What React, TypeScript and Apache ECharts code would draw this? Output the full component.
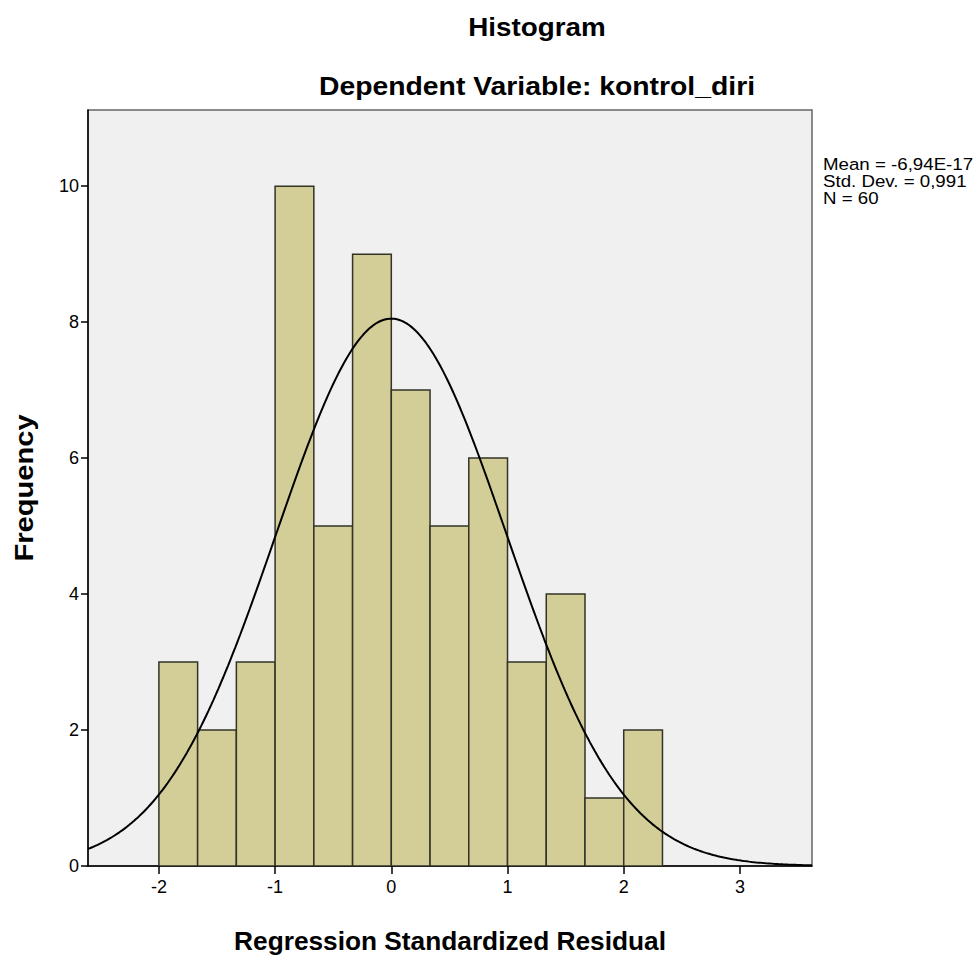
import React, { useEffect, useRef } from "react";
import * as echarts from "echarts";

// Histogram data
const binStart = -2;
const binWidth = 1 / 3;
const counts = [3, 2, 3, 10, 5, 9, 7, 5, 6, 3, 4, 1, 2];

// Stats shown in the chart (used for the fitted normal curve)
const statMean = -6.94e-17;
const statSd = 0.991;
const statN = 60;
const statLines = ["Mean = -6,94E-17", "Std. Dev. = 0,991", "N = 60"];

const xTicks = [-2, -1, 0, 1, 2, 3];
const yTicks = [0, 2, 4, 6, 8, 10];
const xMin = -2.61;
const xMax = 3.62;
const yMax = 11.12;

const titleText = "Histogram";
const subtitleText = "Dependent Variable: kontrol_diri";
const xName = "Regression Standardized Residual";
const yName = "Frequency";

export default function App() {
  const ref = useRef<HTMLDivElement>(null);
  useEffect(() => {
    if (!ref.current) return;
    const chart = echarts.init(ref.current, undefined, { renderer: "svg" });

    const bins = counts.map((c, i) => [binStart + i * binWidth, binStart + (i + 1) * binWidth, c]);

    const curve: number[][] = [];
    const steps = 300;
    for (let i = 0; i <= steps; i++) {
      const x = xMin + ((xMax - xMin) * i) / steps;
      const z = (x - statMean) / statSd;
      const y = (statN * binWidth * Math.exp(-0.5 * z * z)) / (statSd * Math.sqrt(2 * Math.PI));
      curve.push([x, y]);
    }

    const font = "'Liberation Sans', Arial, sans-serif";

    chart.setOption({
      animation: false,
      backgroundColor: "#ffffff",
      grid: {
        left: 88,
        top: 110,
        width: 724,
        height: 756,
        show: true,
        backgroundColor: "#f0f0f0",
        borderColor: "#666",
        borderWidth: 1.5,
      },
      xAxis: {
        type: "value",
        min: xMin,
        max: xMax,
        splitLine: { show: false },
        axisLine: { show: true, onZero: false, lineStyle: { color: "#000", width: 1.5 } },
        axisTick: { show: true, customValues: xTicks, length: 8, lineStyle: { color: "#000", width: 1.5 } },
        axisLabel: { customValues: xTicks, fontSize: 18, color: "#000", fontFamily: font, margin: 12 },
      },
      yAxis: {
        type: "value",
        min: 0,
        max: yMax,
        splitLine: { show: false },
        axisLine: { show: true, onZero: false, lineStyle: { color: "#000", width: 1.5 } },
        axisTick: { show: true, customValues: yTicks, length: 7, lineStyle: { color: "#000", width: 1.5 } },
        axisLabel: { customValues: yTicks, fontSize: 18, color: "#000", fontFamily: font, margin: 9 },
      },
      series: [
        {
          type: "custom",
          clip: true,
          data: bins,
          encode: { x: [0, 1], y: 2 },
          renderItem: (params: any, api: any) => {
            const p0 = api.coord([api.value(0), api.value(2)]);
            const p1 = api.coord([api.value(1), 0]);
            return {
              type: "rect",
              shape: { x: p0[0], y: p0[1], width: p1[0] - p0[0], height: p1[1] - p0[1] },
              style: { fill: "#d3ce97", stroke: "#333326", lineWidth: 1.5 },
            };
          },
        },
        {
          type: "line",
          data: curve,
          showSymbol: false,
          symbol: "none",
          smooth: false,
          z: 5,
          lineStyle: { color: "#000", width: 2 },
        },
      ],
      graphic: [
        {
          type: "text",
          x: 537,
          y: 27,
          scaleX: 1.07,
          style: { text: titleText, font: `bold 26px ${font}`, fill: "#000", align: "center", verticalAlign: "middle" },
        },
        {
          type: "text",
          x: 537,
          y: 86,
          scaleX: 1.09,
          style: { text: subtitleText, font: `bold 26px ${font}`, fill: "#000", align: "center", verticalAlign: "middle" },
        },
        {
          type: "text",
          x: 450,
          y: 941,
          scaleX: 1.01,
          style: { text: xName, font: `bold 26px ${font}`, fill: "#000", align: "center", verticalAlign: "middle" },
        },
        {
          type: "text",
          x: 24,
          y: 488,
          rotation: Math.PI / 2,
          scaleX: 1.12,
          style: { text: yName, font: `bold 26px ${font}`, fill: "#000", align: "center", verticalAlign: "middle" },
        },
        {
          type: "text",
          x: 823,
          y: 156,
          scaleX: 1.1,
          style: {
            text: statLines.join("\n"),
            font: `17px ${font}`,
            lineHeight: 17,
            fill: "#000",
            align: "left",
            verticalAlign: "top",
          },
        },
      ],
    });
    return () => chart.dispose();
  }, []);
  return <div ref={ref} style={{ position: "fixed", left: 0, top: 0, width: 980, height: 962 }} />;
}
